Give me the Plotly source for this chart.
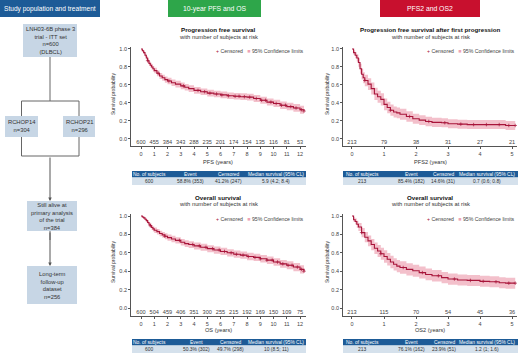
import plotly.graph_objects as go

# ---------------- data ----------------
years_pfs = [0, 1, 2, 3, 4, 5, 6, 7, 8, 9, 10, 11, 12]
risk_pfs = [600, 455, 384, 343, 288, 235, 201, 174, 154, 135, 116, 81, 53]
risk_os = [600, 504, 459, 406, 351, 300, 255, 215, 192, 169, 150, 109, 75]
years_2 = [0, 1, 2, 3, 4, 5]
risk_pfs2 = [213, 79, 38, 31, 27, 21]
risk_os2 = [213, 115, 70, 54, 45, 36]

pfs_t = [0, 0.1, 0.2, 0.3, 0.4, 0.5, 0.6, 0.7, 0.8, 0.9, 1.0, 1.2, 1.4, 1.6, 1.8, 2.0, 2.3, 2.6, 3.0,
         3.3, 3.6, 4.0, 4.5, 5.0, 5.5, 6.0, 6.5, 7.0, 7.5, 8.0, 8.5, 9.0, 9.5, 10.0, 10.5, 11.0, 11.5, 12.0, 12.3]
pfs_s = [1.0, 0.98, 0.96, 0.93, 0.90, 0.87, 0.84, 0.82, 0.80, 0.78, 0.76, 0.73, 0.70, 0.68, 0.66, 0.645, 0.625,
         0.61, 0.59, 0.575, 0.56, 0.54, 0.525, 0.51, 0.50, 0.49, 0.48, 0.475, 0.47, 0.465, 0.45, 0.43, 0.41,
         0.395, 0.375, 0.36, 0.345, 0.325, 0.31]
pfs_lo = [1.0, 0.969, 0.945, 0.911, 0.878, 0.845, 0.813, 0.792, 0.771, 0.750, 0.729, 0.698, 0.667, 0.646, 0.625,
          0.609, 0.589, 0.573, 0.553, 0.538, 0.523, 0.503, 0.488, 0.473, 0.463, 0.453, 0.443, 0.438, 0.433, 0.428,
          0.412, 0.392, 0.371, 0.355, 0.334, 0.318, 0.302, 0.281, 0.265]
pfs_hi = [1.0, 0.991, 0.975, 0.949, 0.922, 0.895, 0.867, 0.848, 0.829, 0.810, 0.791, 0.762, 0.733, 0.714, 0.695,
          0.681, 0.661, 0.647, 0.627, 0.612, 0.597, 0.577, 0.562, 0.547, 0.537, 0.527, 0.517, 0.512, 0.507, 0.502,
          0.488, 0.468, 0.449, 0.435, 0.416, 0.402, 0.388, 0.369, 0.355]
pfs_cens = [0.5, 1.3, 2.1, 3.2, 4.3, 4.8, 5.2, 5.7, 6.1, 6.6, 7.1, 7.4, 7.8, 8.2, 8.7, 9.1, 9.4, 9.8, 10.2,
            10.6, 10.9, 11.3, 11.7, 12.1, 12.3]

os_t = pfs_t
os_s = [1.0, 0.99, 0.98, 0.965, 0.95, 0.93, 0.91, 0.895, 0.875, 0.86, 0.845, 0.83, 0.81, 0.795, 0.78, 0.765,
        0.75, 0.735, 0.715, 0.70, 0.69, 0.675, 0.66, 0.645, 0.63, 0.615, 0.60, 0.585, 0.575, 0.56, 0.55, 0.535,
        0.52, 0.50, 0.48, 0.465, 0.445, 0.42, 0.40]
os_lo = [1.0, 0.982, 0.969, 0.95, 0.933, 0.91, 0.887, 0.87, 0.849, 0.832, 0.816, 0.80, 0.779, 0.763, 0.747,
         0.731, 0.715, 0.70, 0.679, 0.663, 0.653, 0.637, 0.622, 0.607, 0.591, 0.576, 0.561, 0.545, 0.535, 0.52,
         0.51, 0.494, 0.479, 0.458, 0.437, 0.421, 0.40, 0.374, 0.353]
os_hi = [1.0, 0.998, 0.991, 0.98, 0.967, 0.95, 0.933, 0.92, 0.901, 0.888, 0.874, 0.86, 0.841, 0.827, 0.813,
         0.799, 0.785, 0.77, 0.751, 0.737, 0.727, 0.713, 0.698, 0.683, 0.669, 0.654, 0.639, 0.625, 0.615, 0.60,
         0.59, 0.576, 0.561, 0.542, 0.523, 0.509, 0.49, 0.466, 0.447]
os_cens = [0.7, 1.8, 2.9, 3.9, 4.4, 4.9, 5.4, 5.9, 6.3, 6.8, 7.2, 7.7, 8.1, 8.6, 9.0, 9.5, 9.9, 10.3, 10.7,
           11.1, 11.4, 11.8, 12.1, 12.3]

pfs2_t = [0, 0.05, 0.1, 0.15, 0.2, 0.25, 0.3, 0.35, 0.4, 0.5, 0.6, 0.7, 0.8, 0.9, 1.0, 1.1, 1.2, 1.3, 1.4,
          1.5, 1.7, 1.9, 2.1, 2.3, 2.5, 2.8, 3.0, 3.3, 3.6, 4.0, 4.5, 4.8, 5.1]
pfs2_s = [1.0, 0.96, 0.93, 0.90, 0.85, 0.78, 0.72, 0.68, 0.65, 0.61, 0.56, 0.50, 0.47, 0.44, 0.385, 0.35,
          0.32, 0.30, 0.29, 0.275, 0.25, 0.225, 0.21, 0.195, 0.185, 0.18, 0.17, 0.165, 0.16, 0.16, 0.16, 0.15, 0.15]
pfs2_lo = [1.0, 0.934, 0.896, 0.86, 0.803, 0.725, 0.66, 0.618, 0.586, 0.544, 0.493, 0.432, 0.403, 0.373,
           0.319, 0.285, 0.257, 0.238, 0.229, 0.215, 0.192, 0.169, 0.155, 0.142, 0.133, 0.129, 0.12, 0.115,
           0.11, 0.11, 0.11, 0.101, 0.101]
pfs2_hi = [1.0, 0.986, 0.964, 0.94, 0.897, 0.835, 0.78, 0.742, 0.714, 0.676, 0.627, 0.568, 0.537, 0.507,
           0.451, 0.415, 0.383, 0.362, 0.351, 0.335, 0.308, 0.281, 0.265, 0.248, 0.237, 0.231, 0.22, 0.215,
           0.21, 0.21, 0.21, 0.199, 0.199]
pfs2_cens = [0.4, 1.2, 1.8, 2.4, 2.9, 3.4, 3.8, 4.2, 4.6, 4.9, 5.1]

os2_t = [0, 0.05, 0.1, 0.15, 0.2, 0.3, 0.4, 0.5, 0.6, 0.7, 0.8, 0.9, 1.0, 1.1, 1.2, 1.3, 1.4, 1.5, 1.7,
         1.9, 2.1, 2.3, 2.5, 2.8, 3.0, 3.3, 3.6, 4.0, 4.3, 4.6, 4.8, 5.1]
os2_s = [1.0, 0.96, 0.94, 0.91, 0.88, 0.82, 0.77, 0.73, 0.69, 0.65, 0.62, 0.59, 0.56, 0.53, 0.50, 0.475,
         0.455, 0.44, 0.42, 0.405, 0.385, 0.365, 0.35, 0.33, 0.315, 0.305, 0.30, 0.29, 0.285, 0.275, 0.27, 0.27]
os2_lo = [1.0, 0.934, 0.908, 0.872, 0.837, 0.77, 0.715, 0.672, 0.629, 0.587, 0.555, 0.524, 0.493, 0.463,
          0.433, 0.408, 0.388, 0.373, 0.354, 0.339, 0.32, 0.301, 0.287, 0.268, 0.254, 0.245, 0.24, 0.23,
          0.225, 0.215, 0.21, 0.21]
os2_hi = [1.0, 0.986, 0.972, 0.948, 0.923, 0.87, 0.825, 0.788, 0.751, 0.713, 0.685, 0.656, 0.627, 0.597,
          0.567, 0.542, 0.522, 0.507, 0.486, 0.471, 0.45, 0.429, 0.413, 0.392, 0.376, 0.365, 0.36, 0.35,
          0.345, 0.335, 0.33, 0.33]
os2_cens = [0.3, 0.9, 1.6, 2.2, 2.7, 3.2, 3.7, 4.1, 4.5, 4.9, 5.1]

tbl_header = ["No. of subjects", "Event", "Censored", "Median survival (95% CL)"]
pfs_table = ["600", "58.8% (353)", "41.2% (247)", "5.9 (4.2; 8.4)"]
os_table = ["600", "50.3% (302)", "49.7% (298)", "10 (8.5; 11)"]
pfs2_table = ["213", "85.4% (182)", "14.6% (31)", "0.7 (0.6; 0.8)"]
os2_table = ["213", "76.1% (162)", "23.9% (51)", "1.2 (1; 1.6)"]

flow_texts = ["LNH03-6B phase 3<br>trial - ITT set<br>n=600<br>(DLBCL)",
              "RCHOP14<br>n=304", "RCHOP21<br>n=296",
              "Still alive at<br>primary analysis<br>of the trial<br>n=384",
              "Long-term<br>follow-up<br>dataset<br>n=256"]

# ---------------- styling / layout helpers ----------------
W, H = 520, 353
FONT = "Liberation Sans, Arial, sans-serif"
RED = "#a8143a"
BAND = "rgba(232,130,152,0.5)"
AX = "#555555"
TXT = "#333333"
BLUE = "#1d5b97"
ROW = "#d5e1ec"
BOX = "#c7d6e5"


def X(p):
    return p / W


def Y(p):
    return 1 - p / H


def step_at(ts, ss, t):
    v = ss[0]
    for ti, si in zip(ts, ss):
        if ti <= t:
            v = si
    return v


fig = go.Figure()
shapes = []
ann = []


def text(x, y, s, size=5, color=TXT, bold=False, xanchor="center", angle=0):
    if bold:
        s = "<b>" + s + "</b>"
    ann.append(dict(x=X(x), y=Y(y), xref="paper", yref="paper", text=s, showarrow=False,
                    xanchor=xanchor, yanchor="middle", textangle=angle,
                    font=dict(family=FONT, size=size, color=color)))


def rect(x0, y0, x1, y1, fill):
    shapes.append(dict(type="rect", xref="paper", yref="paper", x0=X(x0), x1=X(x1), y0=Y(y1), y1=Y(y0),
                       fillcolor=fill, line=dict(width=0), layer="below"))


def line(x0, y0, x1, y1):
    shapes.append(dict(type="line", xref="paper", yref="paper", x0=X(x0), x1=X(x1), y0=Y(y0), y1=Y(y1),
                       line=dict(color="#666666", width=1)))


# ---------------- headers ----------------
rect(0, 0, 100, 17, BLUE)
text(50, 8.5, "Study population and treatment", size=6.6, color="white")
rect(168, 0, 261, 17, "#2ea64a")
text(214.5, 8.5, "10-year PFS and OS", size=6.8, color="white")
rect(380, 0, 480, 17, "#c8102e")
text(430, 8.5, "PFS2 and OS2", size=6.8, color="white")

# ---------------- flowchart ----------------
boxes = [(23, 24, 77, 57), (5, 116, 38, 137), (63, 116, 95, 137), (27, 201, 77, 231), (27, 266, 77, 304)]
line(50, 57, 50, 101)
line(21.5, 101, 79, 101)
line(21.5, 101, 21.5, 116)
line(79, 101, 79, 116)
line(21.5, 137, 21.5, 156)
line(79, 137, 79, 156)
line(21.5, 156, 79, 156)
line(50, 231, 50, 240)
for (x0, y0, x1, y1), t in zip(boxes, flow_texts):
    rect(x0, y0, x1, y1, BOX)
    text((x0 + x1) / 2, (y0 + y1) / 2, t, size=5.8, color=TXT)
for ytip, ylen in [(201, 45), (266, 35)]:
    ann.append(dict(x=X(50), y=Y(ytip), xref="paper", yref="paper", ax=0, ay=-ylen,
                    axref="pixel", ayref="pixel", text="", showarrow=True, arrowhead=2,
                    arrowsize=0.7, arrowwidth=1, arrowcolor="#555555", standoff=0))

# ---------------- KM panels ----------------
panels = [
    dict(t=pfs_t, s=pfs_s, lo=pfs_lo, hi=pfs_hi, cens=pfs_cens, xa="x", ya="y",
         yrs=years_pfs, risk=risk_pfs, risk_y=-0.045),
    dict(t=pfs2_t, s=pfs2_s, lo=pfs2_lo, hi=pfs2_hi, cens=pfs2_cens, xa="x2", ya="y2",
         yrs=years_2, risk=risk_pfs2, risk_y=-0.045),
    dict(t=os_t, s=os_s, lo=os_lo, hi=os_hi, cens=os_cens, xa="x3", ya="y3",
         yrs=years_pfs, risk=risk_os, risk_y=-0.045),
    dict(t=os2_t, s=os2_s, lo=os2_lo, hi=os2_hi, cens=os2_cens, xa="x4", ya="y4",
         yrs=years_2, risk=risk_os2, risk_y=-0.045),
]
for p in panels:
    fig.add_trace(go.Scatter(x=p["t"], y=p["hi"], mode="lines", line=dict(width=0, shape="hv"),
                             xaxis=p["xa"], yaxis=p["ya"], showlegend=False, hoverinfo="skip"))
    fig.add_trace(go.Scatter(x=p["t"], y=p["lo"], mode="lines", line=dict(width=0, shape="hv"),
                             fill="tonexty", fillcolor=BAND,
                             xaxis=p["xa"], yaxis=p["ya"], showlegend=False, hoverinfo="skip"))
    fig.add_trace(go.Scatter(x=p["t"], y=p["s"], mode="lines", line=dict(width=1.1, color=RED, shape="hv"),
                             xaxis=p["xa"], yaxis=p["ya"], showlegend=False))
    fig.add_trace(go.Scatter(x=p["cens"], y=[step_at(p["t"], p["s"], c) for c in p["cens"]], mode="markers",
                             marker=dict(symbol="cross-thin", size=2.5, line=dict(width=0.7, color=RED)),
                             xaxis=p["xa"], yaxis=p["ya"], showlegend=False))
    fig.add_trace(go.Scatter(x=p["yrs"], y=[p["risk_y"]] * len(p["yrs"]), mode="text",
                             text=[str(v) for v in p["risk"]],
                             textfont=dict(family=FONT, size=5.6, color="#444444"),
                             xaxis=p["xa"], yaxis=p["ya"], showlegend=False, hoverinfo="skip"))

axis_common = dict(showline=True, linecolor=AX, linewidth=0.8, ticks="outside", ticklen=2, tickwidth=0.8,
                   tickcolor=AX, tickfont=dict(family=FONT, size=5.5, color="#444444"), showgrid=False,
                   zeroline=False, fixedrange=True)
yticks = [0, 0.2, 0.4, 0.6, 0.8, 1.0]
ytext = ["0.0", "0.2", "0.4", "0.6", "0.8", "1.0"]

L_DOM = [X(131), X(306)]
R_DOM = [X(343), X(517)]
L_RANGE = [-0.755, 12.45]
R_RANGE = [-0.281, 5.156]
T_DOM = [Y(146), Y(47)]
T_RANGE = [-0.078, 1.022]
B_DOM = [Y(316), Y(214)]
B_RANGE = [-0.087, 1.022]

layout_axes = dict(
    xaxis=dict(domain=L_DOM, range=L_RANGE, anchor="y", tickvals=years_pfs, **axis_common),
    yaxis=dict(domain=T_DOM, range=T_RANGE, anchor="x", tickvals=yticks, ticktext=ytext, **axis_common),
    xaxis2=dict(domain=R_DOM, range=R_RANGE, anchor="y2", tickvals=years_2, **axis_common),
    yaxis2=dict(domain=T_DOM, range=T_RANGE, anchor="x2", tickvals=yticks, ticktext=ytext, **axis_common),
    xaxis3=dict(domain=L_DOM, range=L_RANGE, anchor="y3", tickvals=years_pfs, **axis_common),
    yaxis3=dict(domain=B_DOM, range=B_RANGE, anchor="x3", tickvals=yticks, ticktext=ytext, **axis_common),
    xaxis4=dict(domain=R_DOM, range=R_RANGE, anchor="y4", tickvals=years_2, **axis_common),
    yaxis4=dict(domain=B_DOM, range=B_RANGE, anchor="x4", tickvals=yticks, ticktext=ytext, **axis_common),
)

# titles, legends, axis titles
legend_txt = ("<span style='color:" + RED + "'>+</span> Censored   "
              "<span style='color:#eea3b5'>■</span> 95% Confidence limits")
for cx, right, ytop, title, xlab, ylab_x, ymid in [
    (218, 306, 29, "Progression free survival", "PFS (years)", 113, 94),
    (430, 517, 29, "Progression free survival after first progression", "PFS2 (years)", 327, 94),
    (218, 306, 197, "Overall survival", "OS (years)", 113, 262),
    (430, 517, 197, "Overall survival", "OS2 (years)", 327, 262),
]:
    text(cx, ytop, title, size=6.2, color="#111111", bold=True)
    text(cx, ytop + 7.5, "with number of subjects at risk", size=5.8, color=TXT)
    text(right, ytop + 22, legend_txt, size=5.2, color="#444444", xanchor="right")
    text(cx, ytop + 133, xlab, size=5.6, color="#333333")
    text(ylab_x, ymid, "Survival probability", size=5, color="#333333", angle=-90)

# tables
for x0, x1, ytop, cols, vals in [
    (132, 306, 171, [149, 190, 228, 276], pfs_table),
    (343, 518, 171, [362, 411, 443, 487], pfs2_table),
    (132, 306, 339, [149, 196, 230, 276], os_table),
    (343, 518, 339, [362, 411, 444, 487], os2_table),
]:
    rect(x0, ytop, x1, ytop + 6.5, BLUE)
    rect(x0, ytop + 6.5, x1, ytop + 14, ROW)
    for c, h, v in zip(cols, tbl_header, vals):
        text(c, ytop + 3.3, h, size=4.9, color="white")
        text(c, ytop + 10.3, v, size=4.9, color="#333333")

fig.update_layout(
    width=W, height=H, margin=dict(l=0, r=0, t=0, b=0), paper_bgcolor="white", plot_bgcolor="white",
    showlegend=False, shapes=shapes, annotations=ann, font=dict(family=FONT), **layout_axes
)

fig.write_html("out.html", config={"displayModeBar": False},
               post_script="document.body.style.margin='0';document.body.style.overflow='hidden';")
